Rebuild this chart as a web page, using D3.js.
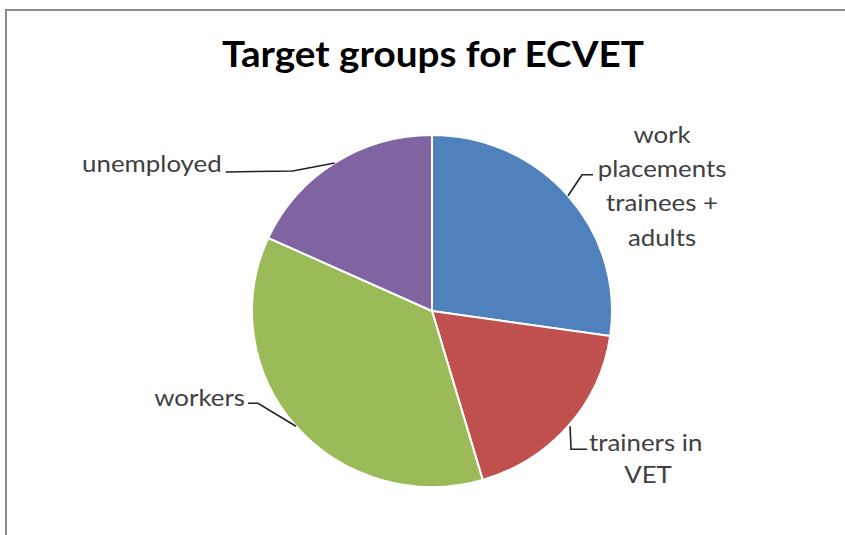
<!DOCTYPE html>
<html><head><meta charset="utf-8">
<script src="https://cdn.jsdelivr.net/npm/d3@7"></script>
<style>body{margin:0;background:#fff}svg{display:block}</style>
</head><body><svg id="c" width="845" height="535"></svg>
<script>
const title = "Target groups for ECVET";
const categories = ["work placements trainees + adults", "trainers in VET", "workers", "unemployed"];
const values = [3, 2, 4, 2];
const colors = ["#4F81BD", "#C0504D", "#9BBB59", "#8064A2"];
const labelLines = [["work","placements","trainees +","adults"], ["trainers in","VET"], ["workers"], ["unemployed"]];

const svg = d3.select("#c");
svg.append("rect").attr("x",6).attr("y",10).attr("width",900).attr("height",600)
  .attr("fill","#fff").attr("stroke","#8c8c8c").attr("stroke-width",2);

svg.append("text").attr("transform","translate(433,67) scale(1.09,1)").attr("text-anchor","middle")
  .attr("font-family","Lato, 'Open Sans', sans-serif").attr("font-weight","bold")
  .attr("font-size",35.5).attr("fill","#000").text(title);

const cx = 432, cy = 311, rx = 180, ry = 176;
const data = categories.map((c,i)=>({c, v: values[i], i}));
const pie = d3.pie().value(d=>d.v).sort(null);
const arcs = pie(data);
const arc = d3.arc().innerRadius(0).outerRadius(rx);

const g = svg.append("g").attr("transform",`translate(${cx},${cy}) scale(1,${ry/rx})`);
g.selectAll("path").data(arcs).enter().append("path")
  .attr("d",arc).attr("fill",d=>colors[d.data.i])
  .attr("stroke","#fff").attr("stroke-width",2).attr("vector-effect","non-scaling-stroke");

function edge(a){ const m=(a.startAngle+a.endAngle)/2; return [cx+rx*Math.sin(m), cy-ry*Math.cos(m)]; }

const font = "Lato, 'Open Sans', sans-serif";
const lab = svg.append("g").attr("font-family",font).attr("font-size",23.5).attr("fill","#404040");
const leader = svg.append("g").attr("fill","none").attr("stroke","#222").attr("stroke-width",1.6);
function txt(x,y,t,anchor){ lab.append("text").attr("transform",`translate(${x},${y}) scale(1.1,1)`).attr("text-anchor",anchor).text(t); }

// blue
{ const [x,y]=edge(arcs[0]);
  leader.append("path").attr("d",`M${x},${y}L${x+14},${y-21}L${x+25},${y-21}`);
  labelLines[0].forEach((t,k)=>txt(x+94, y-53+k*34.3, t, "middle")); }
// red
{ const [x,y]=edge(arcs[1]);
  leader.append("path").attr("d",`M${x+2},${y}L${x+3},${y+23}L${x+19},${y+23}`);
  txt(x+21, y+25, labelLines[1][0], "start");
  txt(x+80, y+57, labelLines[1][1], "middle"); }
// green
{ const [x,y]=edge(arcs[2]);
  leader.append("path").attr("d",`M${x},${y}L${x-38},${y-23}L${x-48},${y-23}`);
  txt(x-51, y-20, labelLines[2][0], "end"); }
// purple
{ const [x,y]=edge(arcs[3]);
  leader.append("path").attr("d",`M${x},${y}L${x-42},${y+8}L${x-109},${y+9}`);
  txt(x-113, y+9, labelLines[3][0], "end"); }
</script></body></html>
